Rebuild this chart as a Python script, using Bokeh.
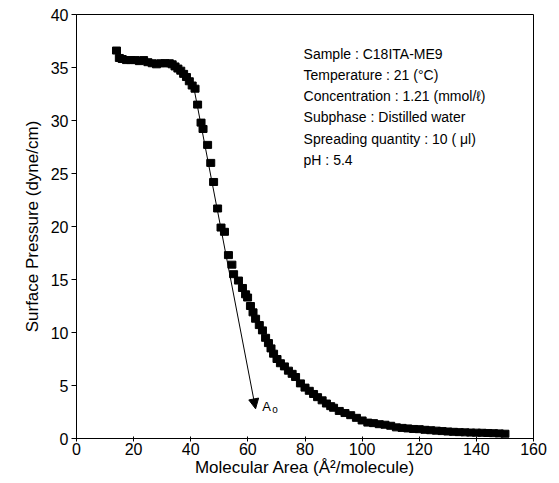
from bokeh.plotting import figure
from bokeh.models import Arrow, NormalHead, FixedTicker, Range1d
from bokeh.core.properties import value
from bokeh.embed import file_html
from bokeh.resources import INLINE

# Isotherm data: molecular area (A^2/molecule) vs surface pressure (dyne/cm)
area = [14.0, 15.0, 16.0, 17.5, 19.0, 20.5, 22.0, 23.5, 25.0, 26.5, 28.0, 29.5,
        31.0, 32.5, 33.5, 34.5, 35.5, 36.5, 37.5, 38.5, 39.5, 40.5, 41.5,
        42.4, 43.6, 44.3, 45.9, 47.0, 48.0, 49.4, 50.6, 51.8, 53.2, 54.4,
        55.0, 56.7, 58.1, 59.2, 59.9, 60.9, 61.8, 62.7, 64.0, 65.1, 66.2,
        67.2, 68.1, 69.0, 70.2, 71.4, 72.8, 74.2, 75.5, 76.7, 78.4, 80.0,
        81.5, 83.0, 84.4, 86.0, 87.5, 89.0, 90.0, 92.0, 94.0, 96.0, 98.0,
        100.0, 102.0, 104.0, 106.0, 108.0, 110.0, 112.0, 114.0, 116.0, 118.0,
        120.0, 122.0, 124.0, 126.0, 128.0, 130.0, 132.0, 134.0, 136.0, 138.0,
        140.0, 142.0, 144.0, 146.0, 148.0, 150.0]
pressure = [36.6, 35.9, 35.8, 35.7, 35.7, 35.7, 35.6, 35.7, 35.5, 35.4, 35.3, 35.4,
            35.4, 35.4, 35.3, 35.1, 34.9, 34.7, 34.4, 34.1, 33.7, 33.3, 33.0,
            31.5, 29.8, 29.2, 27.7, 26.0, 24.2, 21.7, 19.9, 19.5, 17.3, 16.4,
            15.5, 14.9, 14.2, 13.6, 13.3, 12.5, 11.9, 11.3, 10.7, 10.2, 9.5,
            9.0, 8.5, 8.0, 7.5, 7.1, 6.8, 6.4, 6.1, 5.8, 5.2, 4.8,
            4.5, 4.2, 3.9, 3.6, 3.3, 3.05, 2.9, 2.6, 2.4, 2.2, 1.95,
            1.7, 1.5, 1.45, 1.35, 1.3, 1.2, 1.05, 1.0, 0.95, 0.9,
            0.88, 0.82, 0.78, 0.74, 0.7, 0.66, 0.63, 0.6, 0.58, 0.56,
            0.55, 0.54, 0.52, 0.5, 0.48, 0.45]

# Tangent line to the condensed region, extrapolated towards A0
tangent_x = [41.3, 62.7]
tangent_y = [32.8, 2.8]
a0_label_x = 65.0
a0_label_y = 3.0

x_ticks = [0, 20, 40, 60, 80, 100, 120, 140, 160]
y_ticks = [0, 5, 10, 15, 20, 25, 30, 35, 40]

info_lines = ["Sample : C18ITA-ME9",
              "Temperature : 21 (\u00b0C)",
              "Concentration : 1.21 (mmol/\u2113)",
              "Subphase : Distilled water",
              "Spreading quantity : 10 ( \u03bcl)",
              "pH : 5.4"]
info_x = 79.5
info_y = [36.3, 34.3, 32.3, 30.3, 28.3, 26.3]

FONT = "Liberation Sans"

p = figure(width=555, height=480, output_backend="svg", toolbar_location=None,
           x_range=Range1d(0, 160), y_range=Range1d(0, 40),
           min_border_left=76, min_border_right=22, min_border_top=14,
           min_border_bottom=42, background_fill_color="white",
           border_fill_color="white")
p.grid.visible = False
p.outline_line_color = "black"
p.outline_line_width = 1

for ax in (p.xaxis, p.yaxis):
    ax.axis_line_color = "black"
    ax.major_tick_line_color = "black"
    ax.minor_tick_line_color = None
    ax.major_label_text_font = FONT
    ax.major_label_text_font_size = "16px"
    ax.major_label_text_color = "black"
    ax.axis_label_text_font = FONT
    ax.axis_label_text_font_size = "17px"
    ax.axis_label_text_font_style = "normal"
    ax.axis_label_text_color = "black"

p.xaxis.ticker = FixedTicker(ticks=x_ticks)
p.yaxis.ticker = FixedTicker(ticks=y_ticks)
p.xaxis.major_tick_in = 2
p.xaxis.major_tick_out = 3
p.yaxis.major_tick_in = 0
p.yaxis.major_tick_out = 5
p.xaxis.major_label_standoff = 1
p.yaxis.major_label_standoff = 3
p.xaxis.axis_label = "Molecular Area (\u00c5\u00b2/molecule)"
p.yaxis.axis_label = "Surface Pressure (dyne/cm)"
p.xaxis.axis_label_standoff = 0
p.yaxis.axis_label_standoff = 6

p.rect(x=area, y=pressure, width=8, height=7, width_units="screen",
       height_units="screen", fill_color="black", line_color="black")

p.add_layout(Arrow(end=NormalHead(size=10, fill_color="black", line_color="black"),
                   x_start=tangent_x[0], y_start=tangent_y[0],
                   x_end=tangent_x[1], y_end=tangent_y[1],
                   line_color="black", line_width=1))

p.text(x=[a0_label_x], y=[a0_label_y], text=["A"], text_font=value(FONT),
       text_font_size="13px", text_baseline="middle", text_align="left",
       text_color="black")
p.text(x=[a0_label_x], y=[a0_label_y], text=["o"], text_font=value(FONT),
       text_font_size="10px", text_baseline="middle", text_align="left",
       x_offset=10, y_offset=3, text_color="black")

p.text(x=[info_x] * len(info_lines), y=info_y, text=info_lines,
       text_font=value(FONT), text_font_size="14px", text_baseline="middle",
       text_align="left", text_color="black")

open("out.html", "w").write(file_html(p, INLINE))
